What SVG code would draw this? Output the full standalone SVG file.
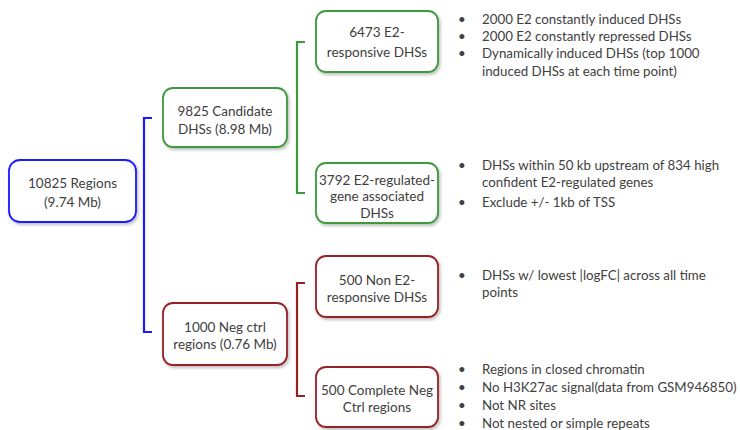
<svg xmlns="http://www.w3.org/2000/svg" width="740" height="430" viewBox="0 0 740 430">
<style>
text{font-family:"Lato","Open Sans","DejaVu Sans",sans-serif;font-size:13.5px;fill:#404040}
#notes text{font-size:13.3px}
.c{text-anchor:middle}
.box{fill:#fff;stroke-width:1.8}
.b{stroke:#1a1aff}
.g{stroke:#3c9a3c}
.r{stroke:#962226}
.br{fill:none;stroke-width:2.2}
</style>
<defs>
<filter id="sh" x="-10%" y="-10%" width="130%" height="140%">
<feDropShadow dx="1.5" dy="2" stdDeviation="1.5" flood-color="#000" flood-opacity="0.25"/>
</filter>
</defs>
<g id="connectors">
<path class="br b" d="M152,118 H144 V332 H152"/>
<path class="br g" d="M305,42 H297 V193 H305"/>
<path class="br r" d="M305,283 H297 V396 H305"/>
</g>
<g id="n-root">
<rect class="box b" x="9" y="160" width="127" height="62" rx="11" filter="url(#sh)"/>
<text class="c" x="72.5" y="188">10825 Regions</text>
<text class="c" x="72.5" y="207">(9.74 Mb)</text>
</g>
<g id="n-candidate">
<rect class="box g" x="163" y="88" width="124" height="59" rx="10" filter="url(#sh)"/>
<text class="c" x="225" y="116">9825 Candidate</text>
<text class="c" x="225" y="134">DHSs (8.98 Mb)</text>
</g>
<g id="n-negctrl">
<rect class="box r" x="163" y="303" width="124" height="62" rx="10" filter="url(#sh)"/>
<text class="c" x="225" y="332">1000 Neg ctrl</text>
<text class="c" x="225" y="349">regions (0.76 Mb)</text>
</g>
<g id="n-e2resp">
<rect class="box g" x="316" y="11" width="122" height="61" rx="10" filter="url(#sh)"/>
<text class="c" x="377" y="37">6473 E2-</text>
<text class="c" x="377" y="57">responsive DHSs</text>
</g>
<g id="n-e2reg">
<rect class="box g" x="316" y="163" width="122" height="60" rx="10" filter="url(#sh)"/>
<text class="c" x="377" y="185">3792 E2-regulated-</text>
<text class="c" x="377" y="201">gene associated</text>
<text class="c" x="377" y="218">DHSs</text>
</g>
<g id="n-nonresp">
<rect class="box r" x="316" y="256" width="122" height="61" rx="10" filter="url(#sh)"/>
<text class="c" x="377" y="285">500 Non E2-</text>
<text class="c" x="377" y="302">responsive DHSs</text>
</g>
<g id="n-complete">
<rect class="box r" x="316" y="367" width="122" height="60" rx="10" filter="url(#sh)"/>
<text class="c" x="377" y="395">500 Complete Neg</text>
<text class="c" x="377" y="412">Ctrl regions</text>
</g>
<g id="notes">
<text x="458" y="24">•</text><text x="482" y="24">2000 E2 constantly induced DHSs</text>
<text x="458" y="41">•</text><text x="482" y="41">2000 E2 constantly repressed DHSs</text>
<text x="458" y="58">•</text><text x="482" y="58">Dynamically induced DHSs (top 1000</text>
<text x="482" y="76">induced DHSs at each time point)</text>
<text x="458" y="170">•</text><text x="482" y="170">DHSs within 50 kb upstream of 834 high</text>
<text x="482" y="187">confident E2-regulated genes</text>
<text x="458" y="207">•</text><text x="482" y="207">Exclude +/- 1kb of TSS</text>
<text x="458" y="280">•</text><text x="482" y="280">DHSs w/ lowest |logFC| across all time</text>
<text x="482" y="297">points</text>
<text x="458" y="374">•</text><text x="482" y="374">Regions in closed chromatin</text>
<text x="458" y="392">•</text><text x="482" y="392">No H3K27ac signal(data from GSM946850)</text>
<text x="458" y="410">•</text><text x="482" y="410">Not NR sites</text>
<text x="458" y="428">•</text><text x="482" y="428">Not nested or simple repeats</text>
</g>
</svg>
